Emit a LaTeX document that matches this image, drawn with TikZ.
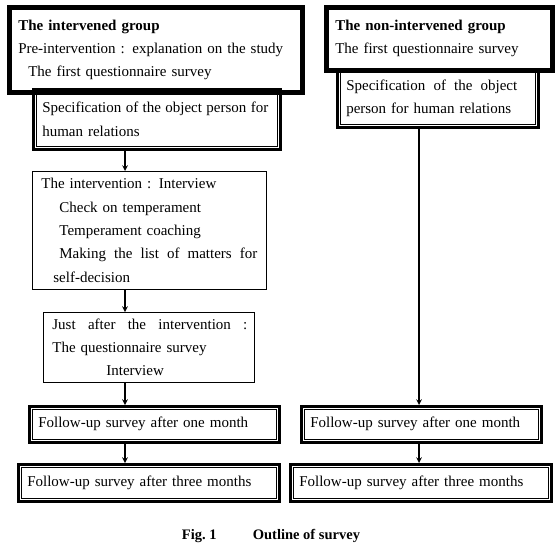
\documentclass[tikz,border=0pt]{standalone}
\usepackage{fontspec}
\setmainfont{Liberation Serif}
\begin{document}
\begin{tikzpicture}[x=1pt, y=-1pt,
    box/.style={anchor=north west, draw, align=left, inner xsep=9pt, inner ysep=0pt,
        font=\fontsize{15}{23.3}\selectfont},
    heavybox/.style={box, line width=4.5pt},
    dblbox/.style={box, line width=2.5pt},
    thinbox/.style={box, line width=0.8pt}]
    \useasboundingbox (0,0) rectangle (556,549);

    % intervened group
    \node[heavybox, text width=275pt, minimum height=85pt] (intv) at (7,5)
        {\textbf{The intervened group}\\
         Pre-intervention : explanation on the study\\
         \hspace*{10pt}The first questionnaire survey};
    \node[dblbox, text width=229pt, minimum height=60pt] (specL) at (32,88)
        {\hbox to 226pt{Specification\hfill of\hfill the\hfill object\hfill person\hfill for}\\ human relations};
    \node[thinbox, text width=216pt, minimum height=118pt] (interv) at (32,171)
        {The intervention : Interview\\
         \hspace*{18pt}Check on temperament\\
         \hspace*{18pt}Temperament coaching\\
         \hspace*{18pt}\hbox to 198pt{Making\hfill the\hfill list\hfill of\hfill matters\hfill for}\\
         \hspace*{12pt}self-decision};
    \node[thinbox, text width=193pt, minimum height=70pt] (after) at (43,312)
        {\hbox to 195pt{Just\hfill after\hfill the\hfill intervention\hfill :}\\
         The questionnaire survey\\
         \hspace*{54pt}Interview};
    \node[dblbox, text width=232pt, minimum height=36pt] (monthL) at (28,405)
        {Follow-up survey after one month};
    \node[dblbox, text width=243pt, minimum height=37pt] (threeL) at (17,463)
        {Follow-up survey after three months};

    % non-intervened group
    \node[heavybox, text width=208pt, minimum height=63pt] (nonintv) at (324,5)
        {\textbf{The non-intervened group}\\
         The first questionnaire survey};
    \node[dblbox, text width=183pt, minimum height=58pt] (specR) at (336,68)
        {\hbox to 171pt{Specification\hfill of\hfill the\hfill object}\\ person for human relations};
    \node[dblbox, text width=222pt, minimum height=36pt] (monthR) at (300,405)
        {Follow-up survey after one month};
    \node[dblbox, text width=243pt, minimum height=37pt] (threeR) at (289,463)
        {Follow-up survey after three months};

    % inner lines of the double frames
    \foreach \n in {specL, monthL, threeL, specR, monthR, threeR}
        \draw[line width=0.6pt] ([shift={(4pt,-4pt)}]\n.north west) rectangle ([shift={(-4pt,4pt)}]\n.south east);

    \coordinate (leftaxis) at (125,0);
    \coordinate (rightaxis) at (419,0);

    \draw[->, >=stealth, line width=1.5pt] (specL.south -| leftaxis) -- (interv.north -| leftaxis);
    \draw[->, >=stealth, line width=1.5pt] (interv.south -| leftaxis) -- (after.north -| leftaxis);
    \draw[->, >=stealth, line width=1.5pt] (after.south -| leftaxis) -- (monthL.north -| leftaxis);
    \draw[->, >=stealth, line width=1.5pt] (monthL.south -| leftaxis) -- (threeL.north -| leftaxis);
    \draw[->, >=stealth, line width=1.5pt] (specR.south -| rightaxis) -- (monthR.north -| rightaxis);
    \draw[->, >=stealth, line width=1.5pt] (monthR.south -| rightaxis) -- (threeR.north -| rightaxis);

    \node[font=\fontsize{14.5}{16}\selectfont\bfseries] (caption) at (271,536) {Fig.~1\hspace{2.5em}Outline of survey};
\end{tikzpicture}
\end{document}
